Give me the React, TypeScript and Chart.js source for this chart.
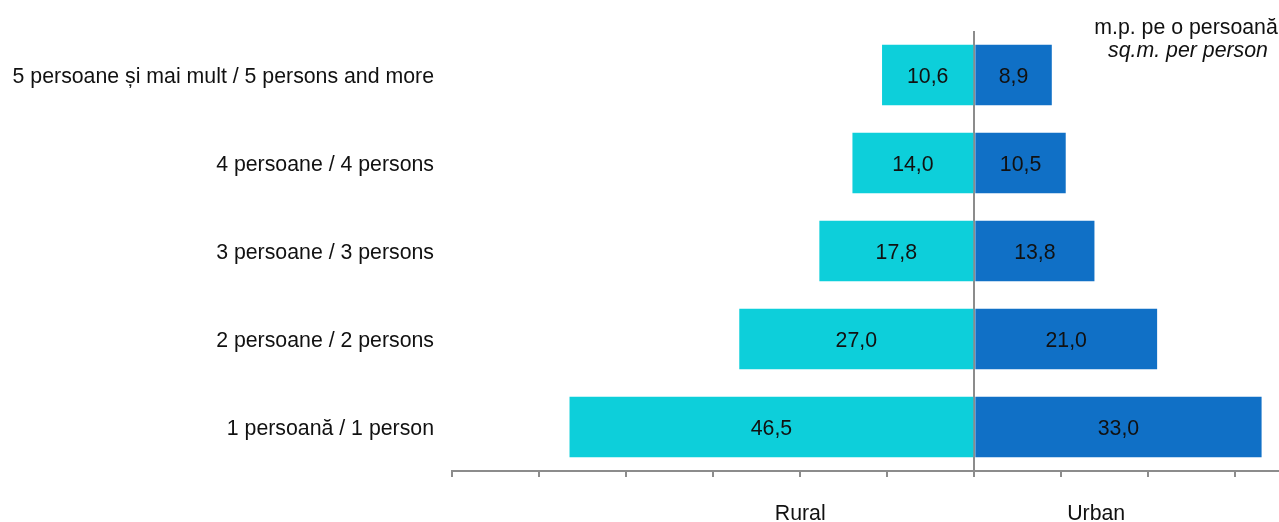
import React, { useEffect, useRef } from "react";
import { Chart, registerables } from "chart.js";

Chart.register(...registerables);

const categories = [
  "5 persoane și mai mult / 5 persons and more",
  "4 persoane / 4 persons",
  "3 persoane / 3 persons",
  "2 persoane / 2 persons",
  "1 persoană / 1 person",
];
const ruralValues = [10.6, 14.0, 17.8, 27.0, 46.5];
const urbanValues = [8.9, 10.5, 13.8, 21.0, 33.0];
const seriesNames = ["Rural", "Urban"];
const sideLabelValues = [-20, 14];
const unitLine1 = "m.p. pe o persoană";
const unitLine2 = "sq.m. per person";

const FONT = '"Liberation Sans", Arial, sans-serif';
const SIZE = 21.3;
const TEXT = "#111111";
const GREY = "#8c8c8c";

const fmt = (v: number) => Math.abs(v).toFixed(1).replace(".", ",");

const labelsPlugin = {
  id: "customLabels",
  afterDatasetsDraw(chart: any) {
    const ctx = chart.ctx;
    ctx.save();
    ctx.font = `${SIZE}px ${FONT}`;
    ctx.fillStyle = TEXT;
    ctx.textAlign = "center";
    ctx.textBaseline = "middle";
    chart.data.datasets.forEach((ds: any, i: number) => {
      const meta = chart.getDatasetMeta(i);
      meta.data.forEach((el: any, j: number) => {
        const p = el.getCenterPoint();
        ctx.fillText(fmt(ds.data[j]), p.x, p.y + 2);
      });
    });
    ctx.restore();
  },
  afterDraw(chart: any) {
    const ctx = chart.ctx;
    const xs = chart.scales.x;
    const area = chart.chartArea;
    ctx.save();
    ctx.fillStyle = TEXT;
    ctx.textAlign = "center";
    ctx.textBaseline = "alphabetic";
    ctx.font = `${SIZE}px ${FONT}`;
    seriesNames.forEach((n, i) => {
      ctx.fillText(n, xs.getPixelForValue(sideLabelValues[i]), area.bottom + 49);
    });
    const cx = chart.width - 93;
    ctx.fillText(unitLine1, cx, 34);
    ctx.font = `italic ${SIZE}px ${FONT}`;
    ctx.fillText(unitLine2, cx + 2, 57);
    ctx.restore();
  },
};

export default function App() {
  const ref = useRef<HTMLCanvasElement>(null);
  useEffect(() => {
    if (!ref.current) return;
    Chart.defaults.font.family = FONT;
    const chart = new Chart(ref.current, {
      type: "bar",
      data: {
        labels: categories,
        datasets: [
          {
            label: seriesNames[0],
            data: ruralValues.map((v) => -v),
            backgroundColor: "#0dcfda",
            categoryPercentage: 1,
            barPercentage: 0.69,
          },
          {
            label: seriesNames[1],
            data: urbanValues,
            backgroundColor: "#1070c6",
            categoryPercentage: 1,
            barPercentage: 0.69,
          },
        ],
      },
      options: {
        indexAxis: "y",
        animation: false,
        responsive: true,
        maintainAspectRatio: false,
        layout: { padding: { top: 31, right: 0, bottom: 0, left: 0 } },
        plugins: {
          legend: { display: false },
          tooltip: { enabled: false },
        },
        scales: {
          x: {
            stacked: true,
            min: -60,
            max: 35,
            z: 1,
            ticks: { display: false, stepSize: 10 },
            afterBuildTicks: (axis: any) => {
              axis.ticks = axis.ticks.filter((t: any) => t.value <= 30);
            },
            afterFit: (axis: any) => {
              axis.height = 51;
            },
            grid: {
              color: (c: any) => (c.tick && c.tick.value === 0 ? GREY : "transparent"),
              tickColor: GREY,
              lineWidth: 2,
              drawTicks: true,
              tickLength: 6,
            },
            border: { display: true, color: GREY, width: 2 },
          },
          y: {
            stacked: true,
            grid: { display: false, drawTicks: false },
            border: { display: false },
            ticks: {
              color: TEXT,
              font: { size: SIZE, family: FONT },
              padding: 18,
              labelOffset: 2,
            },
            afterFit: (axis: any) => {
              axis.width = 452;
            },
          },
        },
      },
      plugins: [labelsPlugin],
    } as any);
    return () => chart.destroy();
  }, []);
  return (
    <div style={{ position: "fixed", left: 0, top: 0, width: 1279, height: 522, background: "#fff" }}>
      <canvas ref={ref} />
    </div>
  );
}
